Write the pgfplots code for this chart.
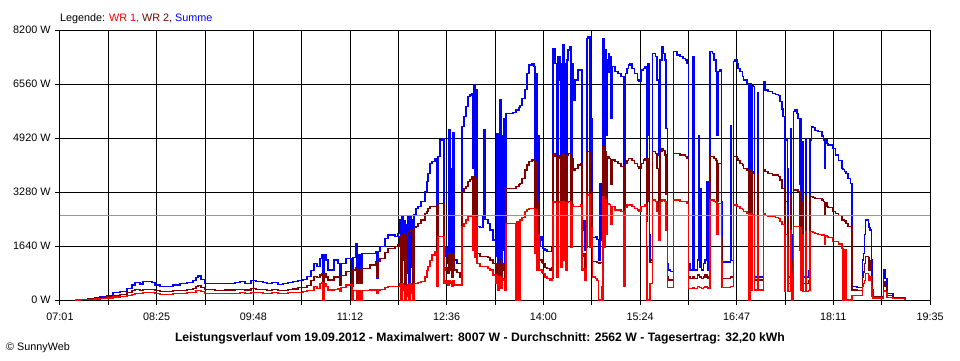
\documentclass[border=0pt]{standalone}
\usepackage{pgfplots}
\pgfplotsset{compat=1.18}
\usepackage{pgfplotstable}
\usepackage{fontspec}
\setmainfont{Liberation Sans}
\definecolor{wr2}{RGB}{128,0,0}
\definecolor{avg}{RGB}{150,150,150}

\pgfplotstableread{
t s w2 w1
13.0 0 0 0
17.3 20 10 10
24.3 50 30 20
30.3 80 50 30
34.7 100 65 40
40.7 150 90 60
45.9 220 140 90
52.0 270 170 110
58.1 355 220 150
62.4 455 280 180
65.0 525 310 200
69.3 486 300 195
71.9 556 330 215
79.7 540 325 215
82.3 455 280 185
86.7 405 250 170
97.9 455 280 185
104.0 490 295 200
110.1 525 310 215
115.3 586 350 240
117.9 680 410 280
119.6 729 450 300
122.2 628 390 255
125.7 506 310 205
134.3 490 300 200
143.0 506 305 205
151.7 520 310 210
156.0 556 330 220
160.3 506 305 205
165.5 586 350 230
169.9 556 330 220
175.9 525 315 210
179.4 506 300 205
183.7 540 320 215
188.9 470 280 190
193.3 500 300 200
197.6 540 325 215
201.9 556 335 220
206.3 600 380 225
210.6 630 380 250
214.1 708 430 280
217.5 900 600 300
220.1 1114 708 400
222.7 1012 680 350
225.3 1265 759 506
227.1 1367 800 520
227.9 0 0 0
228.8 1367 800 506
230.5 1215 700 400
232.3 911 607 304
237.5 1215 700 330
240.9 1114 708 350
242.7 700 450 250
243.5 1114 740 380
247.9 1265 860 455
253.1 450 405 0
253.9 1300 911 300
256.5 1721 1000 300
257.4 600 500 0
259.1 1367 911 280
260.9 700 500 0
261.7 1417 960 300
268.7 1417 1063 304
273.9 1468 1164 304
274.7 668 700 200
275.6 1468 1164 304
277.3 1620 1265 330
281.7 1873 1450 380
284.3 1974 1570 405
290.3 1923 1620 405
292.9 2025 1670 405
294.7 2430 1923 506
295.5 400 300 0
296.4 2531 2000 500
297.3 1200 1980 300
298.1 2400 1950 450
299.0 304 200 0
299.9 2300 1900 400
300.7 800 1950 100
301.6 2531 2050 480
302.5 500 2080 0
303.3 2531 2126 500
304.2 1000 2100 200
305.1 2450 2100 480
305.9 400 300 0
306.8 2600 2200 500
308.5 2784 2227 506
310.3 2834 2330 520
312.9 2986 2430 556
316.3 3290 2632 700
318.1 3600 2700 900
318.9 3847 2784 1012
320.7 4150 2834 1200
322.4 4200 2834 1367
325.0 4302 2834 1468
326.7 1500 1100 400
327.6 4353 2936 1923
329.3 4859 2936 1923
331.9 4890 2936 1923
332.8 1316 900 500
334.5 1600 1000 600
336.3 1120 800 450
337.1 5163 1400 600
338.0 1400 900 500
338.9 4000 1200 550
339.7 900 700 400
340.6 5100 1400 600
341.5 1215 911 455
344.1 1114 830 455
346.7 1100 670 455
348.4 5264 3290 2227
350.1 5568 3390 2330
351.9 5871 3442 2430
353.6 6176 3593 2530
355.3 6226 3650 2530
357.1 6277 3745 2530
357.9 4000 2600 1500
358.8 6530 3745 2530
359.7 3500 2000 1300
360.5 6400 3700 2500
361.4 2226 1417 1114
364.0 2200 1316 1012
366.6 2530 1316 1012
367.5 5163 1316 1012
368.3 2450 1316 1012
370.9 2328 1300 950
372.7 2126 1215 911
375.3 1822 1114 759
377.9 1316 800 506
378.7 5062 1100 700
379.6 708 500 300
380.5 4500 1000 600
381.3 6074 1200 700
382.2 900 600 350
383.1 5000 1100 650
383.9 1500 900 600
384.8 5500 1100 650
385.7 708 500 300
386.5 5669 3391 2328
390.0 5669 3391 2328
392.6 5700 3391 2328
395.2 5770 3450 0
396.1 5770 3450 2380
397.8 5850 3500 0
398.7 5900 3543 2430
400.4 6125 3700 2500
403.0 6400 3948 2683
404.7 6884 4100 2750
406.5 7137 4200 2784
409.1 7188 4252 2784
410.8 7100 4252 2784
411.7 3644 2200 1400
412.5 6884 4200 2750
413.4 1620 1215 911
414.3 5000 3000 2000
415.1 1620 1215 911
416.0 1923 1215 911
417.7 1800 1150 850
418.6 1570 1114 810
420.3 1518 1000 700
422.1 1468 962 658
424.7 1468 911 607
426.4 1620 1000 650
427.3 7644 4455 2986
429.0 7188 4350 2950
430.7 1620 1100 700
431.6 7390 4400 2986
433.3 6681 4300 2950
434.2 2500 1500 1000
435.1 7188 4400 2986
435.9 7745 4455 2986
436.8 3000 1800 1200
437.7 7188 4350 2950
438.5 2000 1300 900
439.4 7289 4400 2950
440.3 7593 4455 2986
442.0 7694 4455 2986
442.9 4000 2500 1600
443.7 7188 4300 2900
444.6 6074 3948 2834
446.3 6681 4000 2834
448.9 6985 4100 2850
450.7 6985 4150 2900
452.4 2126 1316 900
453.3 2400 1400 950
455.0 1518 1000 600
455.9 4000 2500 1600
456.7 7948 4505 3189
457.6 7997 4505 3189
459.3 4150 2400 1600
460.2 5518 3300 2200
461.1 1900 1170 700
463.7 1923 1170 650
465.4 1850 1150 600
466.3 1215 1100 0
468.0 3543 1150 0
468.9 1800 1150 400
469.7 1800 1150 0
470.6 7948 4656 3137
471.5 4000 2400 1600
472.3 7593 4505 3037
473.2 5000 2800 2000
474.1 7289 4353 2936
475.0 7492 4353 2936
475.8 6900 4300 2900
476.7 7390 4252 2834
477.5 5500 3500 2300
478.4 7087 4252 2834
481.0 6935 4200 2733
483.6 6884 4150 2733
486.2 6783 4049 2700
488.8 650 600 400
489.7 6884 4150 2800
491.4 7036 4250 2885
492.3 7137 4302 2885
494.0 7188 4302 2885
495.7 7036 4250 2834
497.5 6884 4150 2783
500.1 6681 4049 2733
501.8 6631 4000 2683
503.5 6985 4150 2834
505.3 7036 4252 2834
507.0 7087 4302 2885
507.9 3948 2400 1600
508.7 5000 3000 0
509.6 7188 4300 0
510.5 2000 1200 0
511.3 1215 1150 500
513.1 7492 4505 3037
515.7 7390 4455 3000
517.4 6681 4000 2700
518.3 4400 2700 1800
520.0 7289 4505 3000
521.7 7694 4606 3037
522.6 7492 4550 3037
524.3 7289 4404 2986
525.2 5200 3200 2100
526.1 1114 708 380
526.9 911 607 380
528.7 860 607 380
531.3 7542 4455 3037
534.7 7440 4455 3037
537.3 7390 4404 3000
539.9 7340 4404 3000
541.7 7289 4353 2986
543.4 7188 4302 2936
544.3 1114 700 350
546.0 911 650 350
548.6 7390 700 380
549.5 911 650 350
552.1 1215 760 400
553.0 5000 760 400
553.9 1000 700 380
554.7 3400 700 380
555.6 911 660 350
557.3 1114 700 380
559.0 1215 760 400
560.7 3600 700 380
561.6 911 640 350
563.3 7542 4353 3037
565.1 7492 4353 3037
566.8 7289 4300 2986
568.5 6935 4250 2960
569.4 5000 3000 2000
570.3 6935 4150 2936
572.0 6985 4150 2936
572.9 3000 1900 1200
573.7 1154 640 380
580.7 5300 700 400
581.5 1200 700 400
583.3 7238 4353 2885
585.0 7289 4353 2885
586.7 7188 4302 2834
587.6 7036 4250 2834
589.3 6935 4150 2784
591.1 6800 4100 2750
592.0 6681 4000 2683
595.4 6580 3948 2632
596.3 700 607 0
598.0 6580 3948 2632
598.9 800 600 300
599.7 6500 3900 2600
600.6 6480 3847 2600
601.5 700 607 304
604.1 6300 3800 2550
604.9 700 607 304
609.3 6631 3948 2632
611.0 6378 3900 2580
613.6 6330 3847 2550
617.1 6277 3796 2530
619.7 6250 3796 2510
622.3 6200 3745 2480
624.0 6024 3644 2379
625.7 5800 3391 2300
626.6 5568 3391 2280
627.5 700 500 250
628.3 4859 3000 2000
630.1 4000 2500 1600
630.9 700 500 250
632.7 5200 3200 2100
633.5 2000 1200 800
634.4 700 500 0
635.3 5720 3341 2227
637.0 5770 3341 2227
638.7 5670 3341 2227
639.6 5518 3300 2227
640.5 3500 2200 1500
641.3 5518 3300 2200
642.2 900 600 300
643.1 4800 3000 2000
643.9 700 500 250
645.7 4910 3137 2075
646.5 700 500 250
648.3 900 600 300
650.0 4859 3137 2075
650.9 5264 3137 2075
652.6 5240 3100 2050
654.3 5160 3087 2030
656.9 5112 3087 2000
660.4 4980 3037 1974
661.3 4859 3000 1974
662.2 4000 2600 1700
663.0 4859 2950 1950
664.7 4760 2834 1920
665.6 4707 2800 1900
669.1 4600 2683 1772
671.7 4404 2620 1772
674.3 4250 2560 1700
677.7 4000 2430 1570
678.6 3950 2430 0
679.5 3900 2400 1520
681.2 3847 2330 0
682.9 3700 2227 0
684.7 3543 2227 0
686.4 405 304 150
690.7 380 290 150
695.1 1215 700 400
696.0 1417 850 500
696.9 2000 1100 600
697.7 2430 1316 800
700.3 2330 1300 750
701.1 2200 911 600
702.0 2126 1200 700
702.9 1215 700 400
703.7 304 200 100
704.6 120 100 60
713.3 911 556 300
715.0 650 420 250
716.7 203 150 80
721.9 80 60 40
732.3 0 0 0
}\data

\begin{document}
\begin{tikzpicture}
\path[use as bounding box] (-60pt,-60pt) rectangle (900pt,300pt);
\begin{axis}[
  at={(0pt,0pt)}, anchor=south west,
  scale only axis, width=870pt, height=270pt,
  xmin=0, xmax=754, ymin=0, ymax=8200,
  xtick={0,41.89,83.78,125.67,167.56,209.44,251.33,293.22,335.11,377,418.89,460.78,502.67,544.56,586.44,628.33,670.22,712.11,754},
  xticklabels={07:01,,08:25,,09:48,,11:12,,12:36,,14:00,,15:24,,16:47,,18:11,,19:35},
  ytick={0,1640,3280,4920,6560,8200},
  yticklabels={0 W,1640 W,3280 W,4920 W,6560 W,8200 W},
  grid=major, major grid style={black, line width=1pt},
  axis line style={black, line width=1pt},
  tick align=outside, major tick length=5pt,
  tick style={black, line width=1pt},
  tick pos=left,
  ticklabel style={font=\fontsize{10.8}{12}\selectfont},
  xticklabel style={yshift=-4.5pt},
  yticklabel style={xshift=-1pt},
]
\addplot[blue, line width=1.1pt, const plot] table[x=t, y=s] {\data};
\addplot[wr2, line width=1.1pt, const plot] table[x=t, y=w2] {\data};
\addplot[red, line width=1.1pt, const plot] table[x=t, y=w1] {\data};
\addplot[avg, line width=1pt] coordinates {(0,2562) (754,2562)};
\end{axis}
\node[anchor=west, inner sep=0pt, font=\fontsize{10.8}{13}\selectfont] at (0pt,281.5pt)
  {Legende: \textcolor{red}{WR 1,} \textcolor{wr2}{WR 2,} \textcolor{blue}{Summe}};
\node[inner sep=0pt, font=\bfseries\fontsize{12.2}{14}\selectfont] at (420pt,-38.5pt)
  {Leistungsverlauf vom 19.09.2012 - Maximalwert: 8007 W - Durchschnitt: 2562 W - Tagesertrag: 32,20 kWh};
\node[anchor=west, inner sep=0pt, font=\fontsize{10.8}{12}\selectfont] at (-54pt,-48pt) {© SunnyWeb};
\end{tikzpicture}
\end{document}
